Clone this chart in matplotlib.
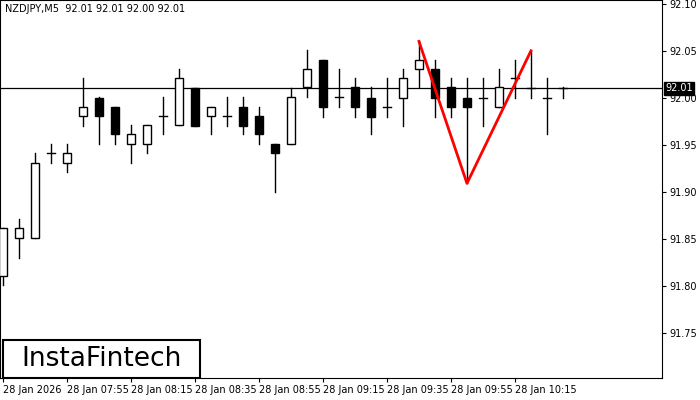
import matplotlib
matplotlib.use("Agg")
import matplotlib.pyplot as plt
from matplotlib.patches import Rectangle

opens  = [91.81,91.851,91.851,91.941,91.931,91.981,92.00,91.990,91.951,91.951,91.981,91.971,92.01,91.981,91.981,91.990,91.981,91.951,91.951,92.011,92.040,
          92.001,92.011,92.00,91.990,92.00,92.031,92.031,92.011,92.00,92.00,91.99,92.021,92.01,92.00,92.01]
highs  = [91.862,91.871,91.941,91.951,91.951,92.021,92.001,91.990,91.971,91.971,92.001,92.031,92.01,91.990,92.001,92.001,91.990,91.951,92.01,92.051,92.040,
          92.031,92.021,92.011,92.021,92.031,92.06,92.04,92.021,92.021,92.021,92.031,92.04,92.05,92.021,92.011]
lows   = [91.801,91.830,91.851,91.931,91.921,91.970,91.951,91.951,91.931,91.941,91.961,91.971,91.97,91.961,91.970,91.961,91.951,91.90,91.951,92.001,91.980,
          91.990,91.980,91.961,91.980,91.970,92.011,91.98,91.98,91.909,91.97,91.99,92.00,92.00,91.961,92.00]
closes = [91.862,91.862,91.931,91.941,91.941,91.990,91.981,91.961,91.961,91.971,91.981,92.021,91.97,91.990,91.981,91.970,91.961,91.941,92.001,92.031,91.990,
          92.001,91.990,91.980,91.990,92.021,92.040,92.00,91.990,91.99,92.00,92.011,92.021,92.01,92.00,92.01]
pattern_idx = [26, 29, 33]
pattern_px = [92.06, 91.909, 92.05]
yticks = [92.10, 92.05, 92.00, 91.95, 91.90, 91.85, 91.80, 91.75]
xtick_idx = [0, 4, 8, 12, 16, 20, 24, 28, 32]
xtick_lbl = ["28 Jan 2026", "28 Jan 07:55", "28 Jan 08:15", "28 Jan 08:35", "28 Jan 08:55",
             "28 Jan 09:15", "28 Jan 09:35", "28 Jan 09:55", "28 Jan 10:15"]
last = 92.01

fig = plt.figure(figsize=(7, 4), dpi=100)
ax = fig.add_axes([0, 0.055, 662/700, 0.945])
ax.set_xlim(-0.1875, 41.19)
ax.set_ylim(91.702, 92.104)
w = 0.55
for i, (o, h, l, c) in enumerate(zip(opens, highs, lows, closes)):
    top, bot = max(o, c), min(o, c)
    ax.plot([i, i], [l, h], color="black", lw=1, zorder=2)
    if abs(c - o) < 0.003:
        ax.plot([i - w/2, i + w/2], [c, c], color="black", lw=1, zorder=3)
    else:
        fc = "white" if c > o else "black"
        ax.add_patch(Rectangle((i - w/2, bot), w, top - bot, facecolor=fc, edgecolor="black", lw=1, zorder=3))
ax.axhline(last, color="black", lw=0.9, zorder=1)
ax.plot(pattern_idx, pattern_px, color="#ff0000", lw=2, zorder=4)

ax.yaxis.tick_right()
ax.set_yticks(yticks)
ax.set_yticklabels([f"{v:.2f}" for v in yticks], fontsize=7)
ax.set_xticks(xtick_idx)
ax.set_xticklabels(xtick_lbl, fontsize=7, ha="left")
ax.tick_params(length=3, pad=2)
ax.text(1.005, (last - 91.702) / (92.104 - 91.702), f"{last:.2f}", transform=ax.transAxes, fontsize=7,
        color="white", va="center", ha="left",
        bbox=dict(boxstyle="square,pad=0.15", fc="black", ec="black"))
ax.text(0.008, 0.99, "NZDJPY,M5  92.01 92.01 92.00 92.01", transform=ax.transAxes, fontsize=7, va="top")
fig.text(3/700, 60/400 - 0.004, "", fontsize=1)
ax.add_patch(Rectangle((3/662, 0.0), 197/662, 38/378, transform=ax.transAxes, fc="white", ec="black", lw=1.5, zorder=5))
ax.text(102/662, 19/378, "InstaFintech", transform=ax.transAxes, fontsize=19, ha="center", va="center", zorder=6)
for s in ax.spines.values():
    s.set_linewidth(0.8)
fig.savefig("out.png", dpi=100)
